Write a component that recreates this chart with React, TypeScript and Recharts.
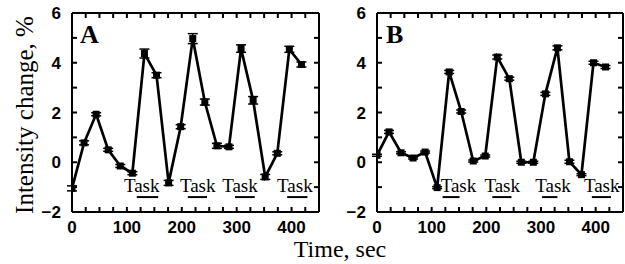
import React from 'react';
import { LineChart, Line, XAxis, YAxis, ErrorBar, ReferenceLine, ReferenceDot } from 'recharts';

const times = [0, 22, 44, 66, 88, 110, 132, 154, 176, 198, 220, 242, 264, 286, 308, 330, 352, 374, 396, 418];
const valuesA = [-1.05, 0.78, 1.93, 0.5, -0.15, -0.44, 4.37, 3.5, -0.83, 1.43, 4.97, 2.42, 0.66, 0.62, 4.57, 2.49, -0.59, 0.36, 4.54, 3.93];
const errorsA = [0.1, 0.08, 0.06, 0.06, 0.06, 0.06, 0.18, 0.1, 0.1, 0.08, 0.2, 0.12, 0.1, 0.06, 0.15, 0.15, 0.1, 0.06, 0.12, 0.1];
const valuesB = [0.28, 1.22, 0.38, 0.17, 0.41, -1.02, 3.63, 2.04, 0.05, 0.25, 4.23, 3.36, 0.0, 0.0, 2.75, 4.6, 0.02, -0.5, 4.0, 3.83];
const errorsB = [0.04, 0.06, 0.04, 0.04, 0.04, 0.04, 0.06, 0.06, 0.04, 0.04, 0.08, 0.06, 0.04, 0.04, 0.06, 0.08, 0.06, 0.04, 0.06, 0.06];

const taskStartA = [118, 211, 297, 392];
const taskEndA = [157, 246, 333, 429];
const taskLabelA = [127, 229, 306, 406];
const taskStartB = [120, 211, 302, 393];
const taskEndB = [151, 246, 330, 428];
const taskLabelB = [149, 229, 322, 411];
const taskText = 'Task';
const taskLabelY = -1.2;
const taskBarY = -1.4;

const xTicks = [0, 25, 50, 75, 100, 125, 150, 175, 200, 225, 250, 275, 300, 325, 350, 375, 400, 425, 450];
const xLabels = [0, 100, 200, 300, 400];
const yTicks = [-2, -1, 0, 1, 2, 3, 4, 5, 6];
const yLabels = [-2, 0, 2, 4, 6];

const dataA = times.map((t, i) => ({ t, v: valuesA[i], e: errorsA[i] }));
const dataB = times.map((t, i) => ({ t, v: valuesB[i], e: errorsB[i] }));

const fmtX = (v: number) => (xLabels.includes(v) ? String(v) : '');
const fmtY = (v: number) => (yLabels.includes(v) ? (v < 0 ? '\u2212' + Math.abs(v) : String(v)) : '');
const blank = () => '';

const SERIF = 'Liberation Serif, Times New Roman, serif';
const tickStyle = { fill: '#000', fontSize: 17, fontFamily: 'Liberation Sans, Arial, sans-serif', fontWeight: 'bold' as const };

const SquareDot = (props: any) => {
  const { cx, cy } = props;
  if (cx == null || cy == null) return null;
  return <rect x={cx - 3.5} y={cy - 3.5} width={7} height={7} fill="#000" />;
};

const TaskLabel = (p: any) => (
  <text x={p.cx} y={p.cy} textAnchor="middle" fontSize={19} fontFamily={SERIF} fill="#000">
    {taskText}
  </text>
);

type PanelProps = {
  data: any[];
  width: number;
  margin: { top: number; left: number; right: number; bottom: number };
  starts: number[];
  ends: number[];
  labels: number[];
};

function Panel({ data, width, margin, starts, ends, labels }: PanelProps) {
  return (
    <LineChart width={width} height={264} data={data} margin={margin}>
      <XAxis
        dataKey="t"
        type="number"
        domain={[0, 450]}
        ticks={xTicks}
        tickFormatter={fmtX}
        interval={0}
        tickSize={-5}
        tickMargin={14}
        height={1}
        axisLine={{ stroke: '#000', strokeWidth: 2 }}
        tickLine={{ stroke: '#000', strokeWidth: 2 }}
        tick={tickStyle}
        allowDataOverflow
      />
      <XAxis
        xAxisId="top"
        orientation="top"
        dataKey="t"
        type="number"
        domain={[0, 450]}
        ticks={xTicks}
        tickFormatter={blank}
        interval={0}
        tickSize={-5}
        height={1}
        axisLine={{ stroke: '#000', strokeWidth: 2 }}
        tickLine={{ stroke: '#000', strokeWidth: 2 }}
        allowDataOverflow
      />
      <YAxis
        type="number"
        domain={[-2, 6]}
        ticks={yTicks}
        tickFormatter={fmtY}
        interval={0}
        tickSize={-5}
        tickMargin={16}
        width={1}
        axisLine={{ stroke: '#000', strokeWidth: 2 }}
        tickLine={{ stroke: '#000', strokeWidth: 2 }}
        tick={tickStyle}
        allowDataOverflow
      />
      <YAxis
        yAxisId="right"
        orientation="right"
        type="number"
        domain={[-2, 6]}
        ticks={yTicks}
        tickFormatter={blank}
        interval={0}
        tickSize={-5}
        width={1}
        axisLine={{ stroke: '#000', strokeWidth: 2 }}
        tickLine={{ stroke: '#000', strokeWidth: 2 }}
        allowDataOverflow
      />
      {starts.map((s, i) => (
        <ReferenceLine
          key={'bar' + i}
          segment={[{ x: s, y: taskBarY }, { x: ends[i], y: taskBarY }]}
          stroke="#000"
          strokeWidth={2}
        />
      ))}
      {labels.map((x, i) => (
        <ReferenceDot key={'lab' + i} x={x} y={taskLabelY} r={0} shape={TaskLabel} />
      ))}
      <Line
        dataKey="v"
        stroke="#000"
        strokeWidth={2.7}
        dot={<SquareDot />}
        isAnimationActive={false}
      >
        <ErrorBar dataKey="e" direction="y" width={5} stroke="#000" strokeWidth={1.5} />
      </Line>
    </LineChart>
  );
}

export default function App() {
  return (
    <div style={{ position: 'absolute', left: 0, top: 0, width: 625, height: 264, background: '#fff', overflow: 'hidden' }}>
      <div style={{ position: 'absolute', left: 0, top: 0 }}>
        <Panel
          data={dataA}
          width={330}
          margin={{ top: 12, left: 71, right: 10, bottom: 51 }}
          starts={taskStartA}
          ends={taskEndA}
          labels={taskLabelA}
        />
      </div>
      <div style={{ position: 'absolute', left: 330, top: 0 }}>
        <Panel
          data={dataB}
          width={295}
          margin={{ top: 12, left: 46, right: 1, bottom: 51 }}
          starts={taskStartB}
          ends={taskEndB}
          labels={taskLabelB}
        />
      </div>
      <svg width={625} height={264} style={{ position: 'absolute', left: 0, top: 0, pointerEvents: 'none' }}>
        <text x={80} y={43} fontSize={26} fontWeight="bold" fontFamily={SERIF} fill="#000">A</text>
        <text x={386} y={43} fontSize={26} fontWeight="bold" fontFamily={SERIF} fill="#000">B</text>
        <text
          x={0}
          y={0}
          transform="translate(33,115) rotate(-90)"
          textAnchor="middle"
          fontSize={25}
          fontFamily={SERIF}
          fill="#000"
        >
          Intensity change, %
        </text>
        <text x={340} y={257} textAnchor="middle" fontSize={24} fontFamily={SERIF} fill="#000">
          Time, sec
        </text>
      </svg>
    </div>
  );
}
